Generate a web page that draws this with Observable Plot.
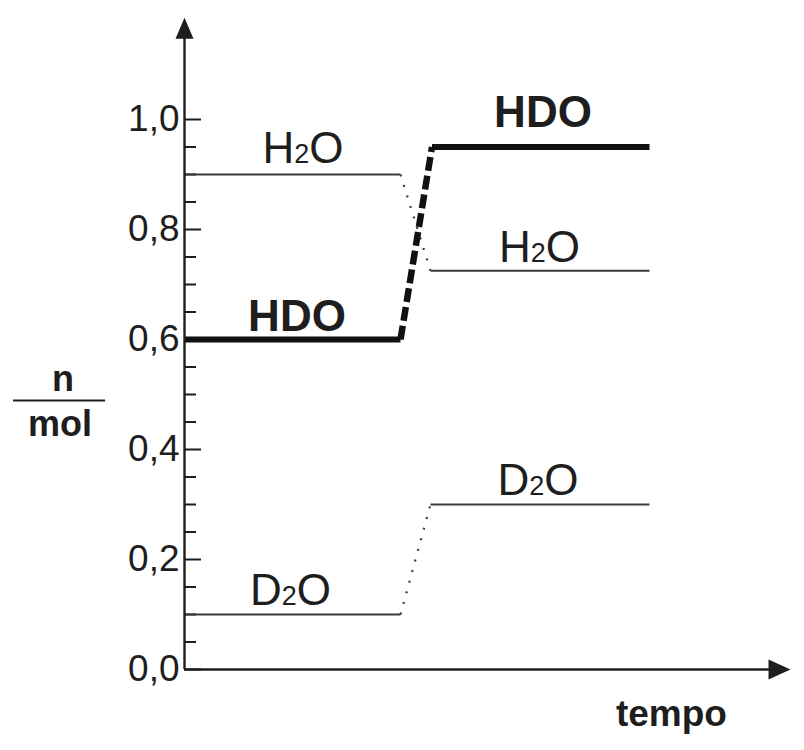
<!DOCTYPE html>
<html>
<head>
<meta charset="utf-8">
<script src="https://cdn.jsdelivr.net/npm/d3@7"></script>
<script src="https://cdn.jsdelivr.net/npm/@observablehq/plot@0.6"></script>
<style>
  html, body { margin: 0; padding: 0; background: #fff; }
  #chart svg { display: block; }
</style>
</head>
<body>
<div id="chart"></div>
<script>
// ---- data ----
const times = [0, 7.2, 8.2, 15.5];          // start, switch begins, switch ends, end
const timesHDO = [0, 7.2, 8.25, 15.5];
const h2o = [0.9, 0.9, 0.725, 0.725];
const hdo = [0.6, 0.6, 0.95, 0.95];
const d2o = [0.1, 0.1, 0.3, 0.3];

const yMajor = [0, 0.2, 0.4, 0.6, 0.8, 1.0];
const yMajorLabels = ["0,0", "0,2", "0,4", "0,6", "0,8", "1,0"];
const yMinor = [0.05, 0.1, 0.15, 0.25, 0.3, 0.35, 0.45, 0.5, 0.55, 0.65, 0.7, 0.75, 0.85, 0.9, 0.95];

const labelText  = ["H2O", "HDO", "D2O", "HDO", "H2O", "D2O"];
const labelTime  = [3.95, 3.75, 3.53, 11.95, 11.83, 11.78];
const labelValue = [0.9, 0.6, 0.1, 0.95, 0.725, 0.3];
const labelGap   = [-12, -9, -10, -20, -9, -10];
const labelBold  = [false, true, false, true, false, false];

const xMax = 20.2, yTop = 1.185;

// ---- tables ----
function seg(ts, vs, i0, i1) { return [{t: ts[i0], v: vs[i0]}, {t: ts[i1], v: vs[i1]}]; }
const plateau = (ts, vs) => [...seg(ts, vs, 0, 1), {t: NaN, v: NaN}, ...seg(ts, vs, 2, 3)];
const labels = labelText.map((text, i) => ({text, t: labelTime[i], v: labelValue[i], dy: labelGap[i], bold: labelBold[i]}));

const font = "'Liberation Sans', Arial, Helvetica, sans-serif";
const ink = "#1e1e1e";
const thin = "#3a3a3a";

const arrowUp = {draw(ctx) { ctx.moveTo(0, 0); ctx.lineTo(9, 21); ctx.lineTo(-9, 21); ctx.closePath(); }};
const arrowRight = {draw(ctx) { ctx.moveTo(0, 0); ctx.lineTo(-22, -10); ctx.lineTo(-22, 10); ctx.closePath(); }};

const plot = Plot.plot({
  width: 804,
  height: 750,
  marginLeft: 184,
  marginRight: 14,
  marginTop: 9,
  marginBottom: 81,
  x: {domain: [0, xMax], axis: null},
  y: {domain: [0, 1.2], axis: null},
  style: {fontFamily: font, background: "#fff", color: ink, overflow: "visible"},
  marks: [
    // minor and major ticks
    Plot.ruleY(yMinor, {x1: 0, x2: 12 / 30, stroke: ink, strokeWidth: 2}),
    Plot.ruleY(yMajor, {x1: 0, x2: 17 / 30, stroke: ink, strokeWidth: 2}),
    // tick labels
    Plot.text(yMajor, {x: 0, y: d => d, text: (d, i) => yMajorLabels[i], textAnchor: "end", dx: -5,
      lineAnchor: "middle", fontSize: 37, fill: ink}),
    // series: plateaus
    Plot.line(plateau(times, h2o), {x: "t", y: "v", stroke: thin, strokeWidth: 2, strokeLinecap: "butt"}),
    Plot.line(plateau(times, d2o), {x: "t", y: "v", stroke: thin, strokeWidth: 2, strokeLinecap: "butt"}),
    Plot.line(plateau(timesHDO, hdo), {x: "t", y: "v", stroke: "#111", strokeWidth: 6, strokeLinecap: "butt"}),
    // transitions
    Plot.line(seg(times, h2o, 1, 2), {x: "t", y: "v", stroke: thin, strokeWidth: 2.2, strokeLinecap: "butt", strokeDasharray: "2,9"}),
    Plot.line(seg(times, d2o, 1, 2), {x: "t", y: "v", stroke: thin, strokeWidth: 2.2, strokeLinecap: "butt", strokeDasharray: "2,9"}),
    Plot.line(seg(timesHDO, hdo, 1, 2), {x: "t", y: "v", stroke: "#111", strokeWidth: 6.5, strokeLinecap: "butt", strokeDasharray: "14,5"}),
    // axes
    Plot.ruleX([0], {y1: 0, y2: yTop - 0.01, stroke: ink, strokeWidth: 2.4}),
    Plot.ruleY([0], {x1: 0, x2: xMax - 0.3, stroke: ink, strokeWidth: 2.4}),
    Plot.dot([{t: 0, v: yTop}], {x: "t", y: "v", symbol: arrowUp, fill: ink, stroke: null, r: 5}),
    Plot.dot([{t: xMax, v: 0}], {x: "t", y: "v", symbol: arrowRight, fill: ink, stroke: null, r: 5}),
    // series labels (one mark each, since dy is a constant option)
    ...labels.map(d => Plot.text([d], {x: "t", y: "v", text: "text", dy: d.dy, lineAnchor: "bottom",
      textAnchor: "middle", fontSize: 44, fontWeight: d.bold ? "bold" : "normal", fill: ink})),
    // axis titles
    Plot.text(["n"], {x: -4.05, y: 0.489, text: d => d, dy: -10, lineAnchor: "bottom", fontSize: 36, fontWeight: "bold", fill: ink}),
    Plot.text(["mol"], {x: -4.15, y: 0.489, text: d => d, dy: 35, lineAnchor: "bottom", fontSize: 36, fontWeight: "bold", fill: ink}),
    Plot.ruleY([0.489], {x1: -5.7, x2: -2.63, stroke: ink, strokeWidth: 2}),
    Plot.text(["tempo"], {x: 16.23, y: 0, text: d => d, dy: 56, lineAnchor: "bottom", fontSize: 37, fontWeight: "bold", fill: ink})
  ]
});

// small "2" in formulas
plot.querySelectorAll("text").forEach(el => {
  const m = /^([A-Z])2O$/.exec(el.textContent);
  if (m) {
    el.textContent = "";
    const ns = "http://www.w3.org/2000/svg";
    const a = document.createElementNS(ns, "tspan"); a.textContent = m[1];
    const b = document.createElementNS(ns, "tspan"); b.textContent = "2"; b.setAttribute("font-size", "27");
    const c = document.createElementNS(ns, "tspan"); c.textContent = "O";
    el.append(a, b, c);
  }
});

document.getElementById("chart").appendChild(plot);
</script>
</body>
</html>
